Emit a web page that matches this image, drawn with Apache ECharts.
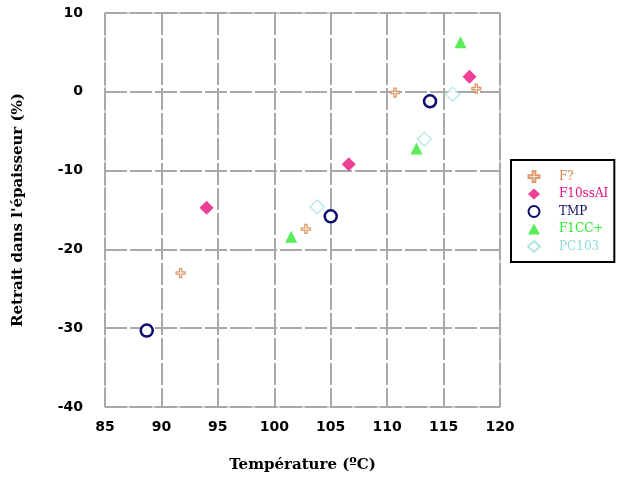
<!DOCTYPE html>
<html><head><meta charset="utf-8">
<script src="https://cdn.jsdelivr.net/npm/echarts@6/dist/echarts.min.js"></script>
<style>html,body{margin:0;padding:0;background:#fff}#c{width:619px;height:492px}</style>
</head><body><div id="c"></div>
<script>
const seriesNames = ['F?', 'F10ssAI', 'TMP', 'F1CC+', 'PC103'];
const dataF = [[91.7, -23.0], [102.8, -17.4], [110.7, -0.1], [117.9, 0.4]];
const dataF10ssAI = [[94.0, -14.7], [106.6, -9.2], [117.3, 1.9]];
const dataTMP = [[88.7, -30.3], [105.0, -15.8], [113.8, -1.2]];
const dataF1CC = [[101.5, -18.4], [112.6, -7.2], [116.5, 6.3]];
const dataPC103 = [[103.8, -14.6], [113.3, -6.0], [115.8, -0.3]];
const xTitle = 'Température (ºC)';
const yTitle = "Retrait dans l'épaisseur (%)";

const plusPath = 'path://M3,0 L5,0 L5,3 L8,3 L8,5 L5,5 L5,8 L3,8 L3,5 L0,5 L0,3 L3,3 Z';
const cols = ['#d5844e', '#e8107a', '#0c0c6e', '#2ee82e', '#9adede'];
const styles = [
  {symbol: plusPath, symbolSize: 9, itemStyle: {color: '#fff4e8', borderColor: cols[0], borderWidth: 1.3}},
  {symbol: 'diamond', symbolSize: 14, itemStyle: {color: cols[1]}},
  {symbol: 'circle', symbolSize: 12, itemStyle: {color: '#fff', borderColor: cols[2], borderWidth: 2.5, opacity: 1}},
  {symbol: 'triangle', symbolSize: 12, itemStyle: {color: cols[3]}},
  {symbol: 'diamond', symbolSize: 14, itemStyle: {color: '#fff', borderColor: cols[4], borderWidth: 1.2}}
];
const datas = [dataF, dataF10ssAI, dataTMP, dataF1CC, dataPC103];

const chart = echarts.init(document.getElementById('c'));
chart.setOption({
  animation: false,
  backgroundColor: '#fff',
  color: cols,
  grid: {left: 105, top: 13, right: 119, bottom: 85, show: true, borderColor: '#c4c4c4', borderWidth: 1.5},
  xAxis: {
    type: 'value', min: 85, max: 120, interval: 5,
    name: xTitle, nameLocation: 'middle', nameGap: 51,
    nameTextStyle: {fontFamily: 'DejaVu Serif', fontWeight: 'bold', fontSize: 15, color: '#000'},
    axisLine: {show: false}, axisTick: {show: false},
    axisLabel: {margin: 13, color: '#000', fontFamily: 'DejaVu Sans', fontWeight: 'bold', fontSize: 14},
    splitLine: {lineStyle: {color: '#a8a8a8', width: 2, type: [22, 3]}}
  },
  yAxis: {
    type: 'value', min: -40, max: 10, interval: 10,
    name: yTitle, nameLocation: 'middle', nameGap: 79,
    nameTextStyle: {fontFamily: 'DejaVu Serif', fontWeight: 'bold', fontSize: 15, color: '#000'},
    axisLine: {show: false}, axisTick: {show: false},
    axisLabel: {margin: 22, color: '#000', fontFamily: 'DejaVu Sans', fontWeight: 'bold', fontSize: 14},
    splitLine: {lineStyle: {color: '#a8a8a8', width: 2, type: [22, 3]}}
  },
  legend: {
    orient: 'vertical', left: 511, top: 160,
    borderColor: '#000', borderWidth: 2,
    padding: [10, 6, 9, 16],
    itemWidth: 12, itemHeight: 11, itemGap: 5,
    textStyle: {fontFamily: 'DejaVu Serif', fontSize: 12, lineHeight: 12, padding: [0, 0, 0, 14]},
    data: seriesNames.map((n, i) => ({name: n, textStyle: {color: i === 4 ? '#8fdcdc' : cols[i]}}))
  },
  series: seriesNames.map((n, i) => Object.assign({
    name: n, type: 'scatter', data: datas[i]
  }, styles[i]))
});
</script></body></html>
